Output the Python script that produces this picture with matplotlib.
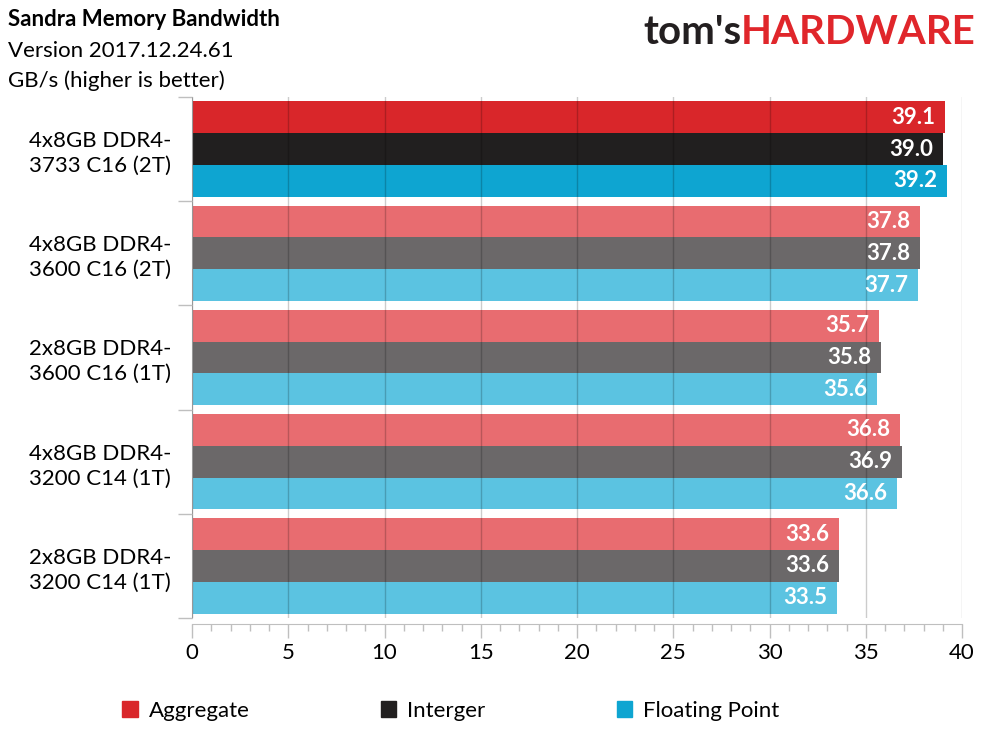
import matplotlib.pyplot as plt
import numpy as np
from matplotlib.ticker import MultipleLocator

# data, top to bottom
configs = ['4x8GB DDR4-\n3733 C16 (2T)', '4x8GB DDR4-\n3600 C16 (2T)',
           '2x8GB DDR4-\n3600 C16 (1T)', '4x8GB DDR4-\n3200 C14 (1T)',
           '2x8GB DDR4-\n3200 C14 (1T)']
aggregate = [39.1, 37.8, 35.7, 36.8, 33.6]
integer = [39.0, 37.8, 35.8, 36.9, 33.6]
floating = [39.2, 37.7, 35.6, 36.6, 33.5]
series_names = ['Aggregate', 'Interger', 'Floating Point']

dark = ['#D9262A', '#211F1F', '#0EA5D1']
light = ['#E86C70', '#6B6869', '#5BC3E1']

plt.rcParams['font.family'] = ['Lato', 'DejaVu Sans']

fig = plt.figure(figsize=(9.89, 7.41), dpi=100)
ax = fig.add_axes([192 / 989, 1 - 618 / 741, 770 / 989, 521 / 741])

n = len(configs)
y = np.arange(n)
bh = 0.305
for i, vals in enumerate([aggregate, integer, floating]):
    pos = y - bh + i * bh
    cols = [dark[i] if k == 0 else light[i] for k in range(n)]
    ax.barh(pos, vals, height=bh, color=cols, zorder=2)
    for p, v in zip(pos, vals):
        ax.text(v - 0.5, p, f'{v:.1f}', ha='right', va='center', color='white',
                fontsize=16, fontweight='bold', zorder=3)

ax.set_xlim(0, 40)
ax.set_ylim(n - 0.5, -0.5)
ax.set_axisbelow(False)
ax.xaxis.set_major_locator(MultipleLocator(5))
ax.xaxis.set_minor_locator(MultipleLocator(1))
ax.grid(axis='x', which='major', color=(0, 0, 0, 0.2), linewidth=1)
ax.set_yticks(np.arange(-0.5, n, 1))
ax.set_yticklabels([])
ax.set_yticks(y, minor=True)
ax.set_yticklabels(configs, minor=True, fontsize=16, ha='center',
                   multialignment='center', linespacing=1.3)
ax.tick_params(axis='y', which='minor', length=0, pad=66)
ax.tick_params(axis='y', which='major', length=10, color='#BFBFBF', width=1)
ax.tick_params(axis='x', which='major', length=10, color='#BFBFBF', width=1,
               labelsize=16, pad=4)
ax.tick_params(axis='x', which='minor', length=5, color='#BFBFBF', width=1)
for s in ['top', 'right']:
    ax.spines[s].set_visible(False)
ax.spines['left'].set_color('#BFBFBF')
ax.spines['bottom'].set_color('#BFBFBF')
ax.spines['bottom'].set_position(('outward', 4))

fig.text(8 / 989, 1 - 20 / 741, 'Sandra Memory Bandwidth', fontsize=16,
         fontweight='bold', va='center')
fig.text(8 / 989, 1 - 51 / 741, 'Version 2017.12.24.61', fontsize=16, va='center')
fig.text(8 / 989, 1 - 81 / 741, 'GB/s (higher is better)', fontsize=16, va='center')

# logo
fig.text(643 / 989, 1 - 32 / 741, "tom's", fontsize=29, fontweight='bold',
         color='#231F20', va='center')
fig.text(975 / 989, 1 - 32 / 741, 'HARDWARE', fontsize=29, fontweight='bold',
         color='#E0262B', va='center', ha='right')

handles = [plt.Rectangle((0, 0), 1, 1, color=c) for c in dark]
fig.legend(handles, series_names, loc='center left', bbox_to_anchor=(122 / 989, 1 - 711 / 741),
           ncol=3, frameon=False, fontsize=16, handlelength=0.7, handleheight=0.7,
           handletextpad=0.5, columnspacing=5.9, borderpad=0, borderaxespad=0)

fig.savefig('out.png', dpi=100)
